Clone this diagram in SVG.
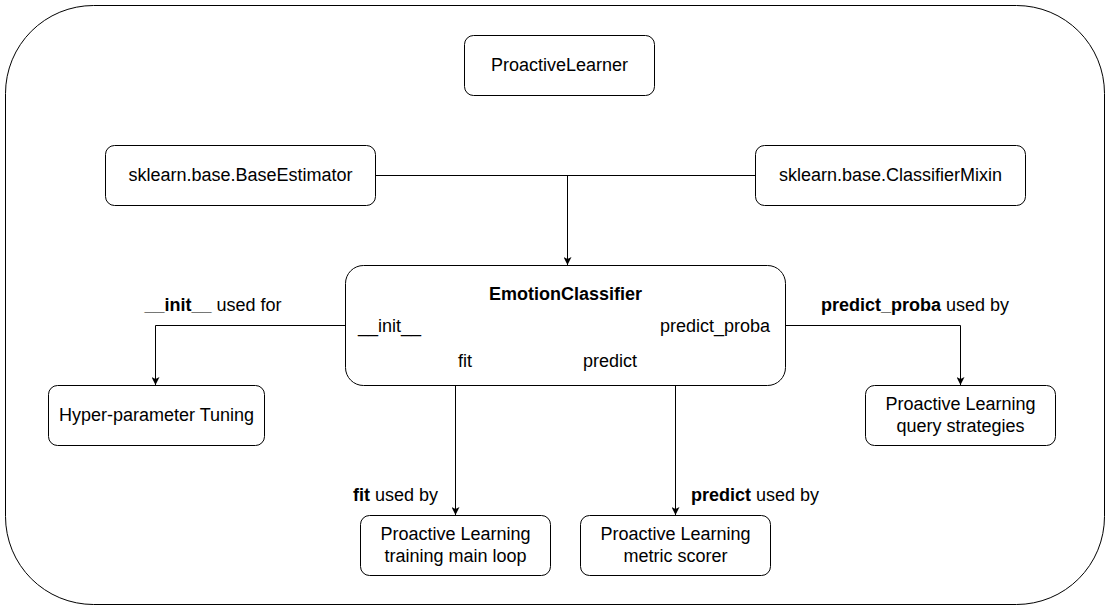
<svg xmlns="http://www.w3.org/2000/svg" width="1111" height="611" viewBox="0 0 1111 611">
<defs>
<style>
.n{fill:#fff;stroke:#000;stroke-width:1}
.t{font-family:"Liberation Sans",Arial,sans-serif;font-size:18px;fill:#000}
.c{text-anchor:middle}
.r{text-anchor:end}
.b{font-weight:bold}
.e{fill:none;stroke:#000;stroke-width:1}
</style>
<marker id="ar" viewBox="0 0 10 10" refX="10" refY="5" markerWidth="8" markerHeight="8" markerUnits="userSpaceOnUse" orient="auto">
<path d="M0,0 L10,5 L0,10 L2.5,5 Z" fill="#000"/>
</marker>
</defs>
<rect width="1111" height="611" fill="#fff"/>
<g id="container"><rect x="5.5" y="5.5" width="1099" height="599" rx="88" ry="88" class="n"/></g>
<g id="connectors">
<path class="e" d="M375.5,175.5 H755.5"/>
<path class="e" d="M567.5,175.5 V265" marker-end="url(#ar)"/>
<path class="e" d="M345.5,325.5 H155.5 V385" marker-end="url(#ar)"/>
<path class="e" d="M785.5,325.5 H960.5 V385" marker-end="url(#ar)"/>
<path class="e" d="M455.5,385.5 V515" marker-end="url(#ar)"/>
<path class="e" d="M675.5,385.5 V515" marker-end="url(#ar)"/>
</g>
<g id="labels">
<text class="t c" x="213" y="310.5"><tspan class="b">__init__</tspan> used for</text>
<text class="t c" x="915" y="310.5"><tspan class="b">predict_proba</tspan> used by</text>
<text class="t r" x="438" y="500.5"><tspan class="b">fit</tspan> used by</text>
<text class="t" x="691" y="500.5"><tspan class="b">predict</tspan> used by</text>
</g>
<g id="ProactiveLearner"><rect x="464.5" y="35.5" width="190" height="60" rx="9" class="n"/><text class="t c" x="559.5" y="71">ProactiveLearner</text></g>
<g id="BaseEstimator"><rect x="105.5" y="145.5" width="270" height="60" rx="9" class="n"/><text class="t c" x="240.5" y="181">sklearn.base.BaseEstimator</text></g>
<g id="ClassifierMixin"><rect x="755.5" y="145.5" width="270" height="60" rx="9" class="n"/><text class="t c" x="890.5" y="181">sklearn.base.ClassifierMixin</text></g>
<g id="EmotionClassifier"><rect x="345.5" y="265.5" width="440" height="120" rx="18" class="n"/>
<text class="t c b" x="565.5" y="300">EmotionClassifier</text>
<text class="t" x="358" y="332">__init__</text>
<text class="t r" x="770" y="332">predict_proba</text>
<text class="t c" x="465" y="367">fit</text>
<text class="t c" x="610" y="367">predict</text>
</g>
<g id="HyperparameterTuning"><rect x="48.5" y="385.5" width="216" height="60" rx="9" class="n"/><text class="t c" x="156.5" y="420.5">Hyper-parameter Tuning</text></g>
<g id="QueryStrategies"><rect x="865.5" y="385.5" width="190" height="60" rx="9" class="n"/><text class="t c" x="960.5" y="410">Proactive Learning</text><text class="t c" x="960.5" y="431.5">query strategies</text></g>
<g id="TrainingLoop"><rect x="360.5" y="515.5" width="190" height="60" rx="9" class="n"/><text class="t c" x="455.5" y="540">Proactive Learning</text><text class="t c" x="455.5" y="561.5">training main loop</text></g>
<g id="MetricScorer"><rect x="580.5" y="515.5" width="190" height="60" rx="9" class="n"/><text class="t c" x="675.5" y="540">Proactive Learning</text><text class="t c" x="675.5" y="561.5">metric scorer</text></g>
</svg>
